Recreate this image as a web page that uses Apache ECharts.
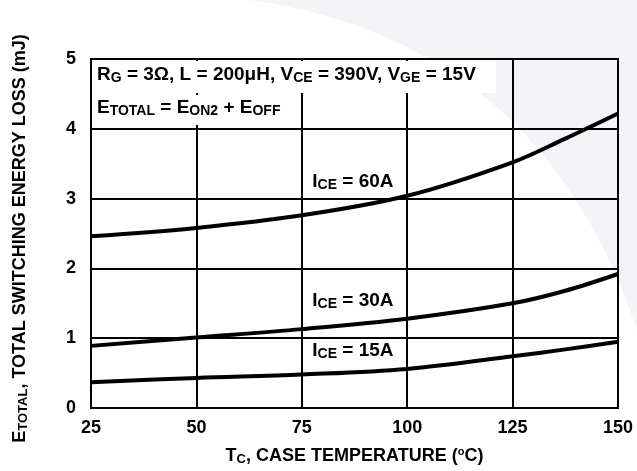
<!DOCTYPE html>
<html><head><meta charset="utf-8">
<script src="https://cdn.jsdelivr.net/npm/echarts@6/dist/echarts.min.js"></script>
<style>html,body{margin:0;padding:0;background:#fff}#c{width:637px;height:471px}</style>
</head><body><div id="c"></div>
<script>
var temps = [25, 50, 75, 100, 125, 137.5, 150];
var e60A = [2.46, 2.58, 2.76, 3.04, 3.52, 3.86, 4.22];
var e30A = [0.89, 1.01, 1.13, 1.28, 1.50, 1.68, 1.92];
var e15A = [0.37, 0.43, 0.48, 0.56, 0.74, 0.84, 0.95];
var xTicks = [25, 50, 75, 100, 125, 150];
var yTicks = [0, 1, 2, 3, 4, 5];
var curveLabels = [
  {name: '60A', at: [77.5, 3.24]},
  {name: '30A', at: [77.5, 1.53]},
  {name: '15A', at: [77.5, 0.82]}
];
var FONT = '"Liberation Sans", Arial, Helvetica, sans-serif';
function pairs(xs, ys){ return xs.map(function(x,i){return [x, ys[i]];}); }
function mkRich(main, sub){
  return {
    m: {fontFamily: FONT, fontWeight: 'bold', fontSize: main, color: '#000', lineHeight: 20, verticalAlign: 'middle'},
    s: {fontFamily: FONT, fontWeight: 'bold', fontSize: sub, color: '#000', lineHeight: 8, verticalAlign: 'bottom'},
    u: {fontFamily: FONT, fontWeight: 'bold', fontSize: 11, color: '#000', lineHeight: 8, verticalAlign: 'top'}
  };
}
var rich18 = mkRich(18, 13);
var rich19 = mkRich(19, 14);
var series = [e60A, e30A, e15A].map(function(d, i){
  var lab = curveLabels[i];
  return {
    type: 'line', data: pairs(temps, d), smooth: 0.35, symbol: 'none',
    lineStyle: {color: '#000', width: 4}, z: 5,
    markPoint: {
      symbol: 'circle', symbolSize: 0, silent: true,
      data: [{coord: lab.at}],
      label: {show: true, position: 'right', distance: 0,
        formatter: '{m|I}{s|CE}{m| = ' + lab.name + '}', rich: rich19}
    }
  };
});
// faint watermark swoosh in the background (decoration)
var wm = [];
for (var t = 0; t <= 1.0001; t += 0.05) {
  var a = (1-t)*(1-t), b = 2*(1-t)*t, c = t*t;
  wm.push([a*250 + b*540 + c*637, a*0 + b*40 + c*330]);
}
wm.push([637, 0]);
var chart = echarts.init(document.getElementById('c'));
chart.setOption({
  animation: false,
  backgroundColor: '#fff',
  grid: {left: 91, right: 19, top: 59, bottom: 58, show: true, borderColor: '#000', borderWidth: 2},
  xAxis: {
    type: 'value', min: 25, max: 150, interval: 25,
    axisLine: {show: true, lineStyle: {color: '#000', width: 2}},
    axisTick: {show: false},
    splitLine: {show: true, lineStyle: {color: '#000', width: 2}},
    axisLabel: {margin: 11, fontFamily: FONT, fontWeight: 'bold', fontSize: 18, color: '#000',
      formatter: function(v){ return xTicks.indexOf(v) >= 0 ? String(v) : ''; }},
    name: '{m|T}{s|C}{m|, CASE TEMPERATURE (}{u|o}{m|C)}',
    nameLocation: 'middle', nameGap: 38,
    nameTextStyle: {rich: rich18}
  },
  yAxis: {
    type: 'value', min: 0, max: 5, interval: 1,
    axisLine: {show: true, lineStyle: {color: '#000', width: 2}},
    axisTick: {show: false},
    splitLine: {show: true, lineStyle: {color: '#000', width: 2}},
    axisLabel: {margin: 15, fontFamily: FONT, fontWeight: 'bold', fontSize: 18, color: '#000',
      formatter: function(v){ return yTicks.indexOf(v) >= 0 ? String(v) : ''; }},
    name: '{m|E}{s|TOTAL}{m|, TOTAL SWITCHING ENERGY LOSS (mJ)}',
    nameLocation: 'middle', nameGap: 61, nameRotate: 90,
    nameTextStyle: {rich: rich18, padding: [0, 10, 0, 0]}
  },
  graphic: [
    {type: 'polygon', z: -10, silent: true, shape: {points: wm}, style: {fill: '#f4f4f8'}},
    {type: 'text', left: 92, top: 61, z: 10,
     style: {text: '{m|R}{s|G}{m| = 3Ω, L = 200μH, V}{s|CE}{m| = 390V, V}{s|GE}{m| = 15V}',
       rich: rich19, backgroundColor: '#fff', padding: [4, 20, 8, 5]}},
    {type: 'text', left: 92, top: 95, z: 10,
     style: {text: '{m|E}{s|TOTAL}{m| = E}{s|ON2}{m| + E}{s|OFF}',
       rich: rich19, backgroundColor: '#fff', padding: [3, 6, 7, 5]}}
  ],
  series: series
});
</script></body></html>
